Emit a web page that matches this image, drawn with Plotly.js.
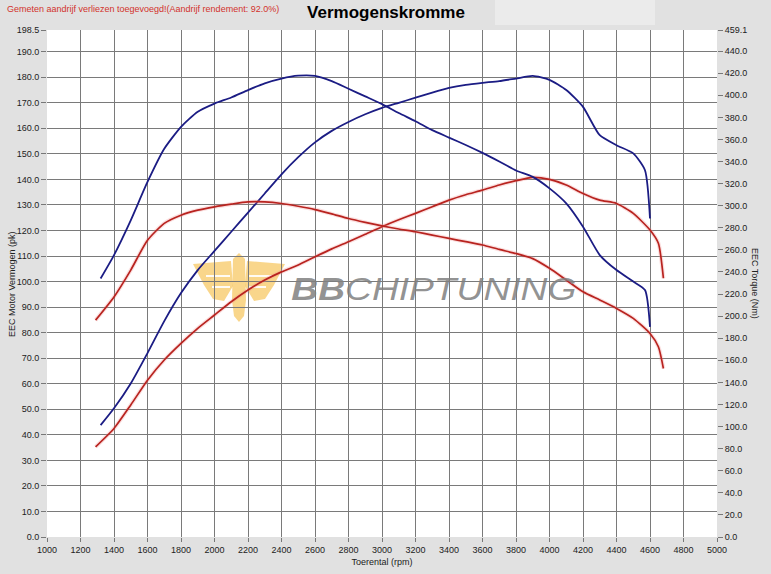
<!DOCTYPE html>
<html>
<head>
<meta charset="utf-8">
<script src="https://cdn.plot.ly/plotly-3.0.1.min.js"></script>
<style>
  html, body { margin: 0; padding: 0; background: #e1e1e1; }
  #chart { width: 771px; height: 574px; }
</style>
</head>
<body>
<div id="chart"></div>
<script>
// ---- Data ----
const rpmTuned = [1320,1400,1500,1600,1700,1800,1900,2000,2100,2200,2300,2400,2500,2600,2700,2800,2900,3000,3100,3200,3300,3400,3500,3600,3700,3800,3900,4000,4100,4200,4300,4400,4500,4570,4600];
const torqueTuned = [234.1,255.3,286.8,321.5,351.5,371.4,385.1,392.5,398.0,404.7,410.8,415.1,417.7,417.5,412.8,405.9,399.0,392.0,383.9,376.5,368.4,361.7,355.0,347.8,340.0,331.9,326.1,315.7,302.1,281.0,255.3,241.7,231.3,223.6,190.3];
const powerTuned = [43.8,50.4,60.1,72.0,84.5,95.5,104.5,112.0,119.5,127.0,134.5,142.0,148.7,154.5,159.0,162.5,165.5,168.0,170.0,172.0,174.0,175.8,177.0,177.8,178.5,179.5,180.5,179.0,175.0,168.4,157.3,153.4,150.2,143.6,124.7];

const rpmStock = [1290,1400,1500,1600,1700,1800,1900,2000,2100,2200,2300,2400,2500,2600,2700,2800,2900,3000,3100,3200,3300,3400,3500,3600,3700,3800,3900,4000,4100,4200,4300,4400,4500,4600,4650,4680];
const torqueStock = [196.4,217.4,241.7,268.7,284.0,291.4,296.0,299.0,301.4,303.4,303.4,302.0,299.5,296.5,292.6,288.4,284.9,281.7,278.9,276.4,273.4,270.4,267.4,264.4,260.4,256.7,252.1,243.3,232.7,222.0,214.6,207.0,198.0,184.3,172.3,152.6];
const powerStock = [35.3,42.5,51.7,61.4,69.3,75.8,81.7,86.9,92.1,96.7,100.6,103.8,106.5,109.7,112.8,115.6,118.5,121.5,124.2,126.7,129.3,131.9,134.0,135.8,137.8,139.5,140.8,140.0,137.8,134.5,131.9,130.6,126.7,120.2,115.0,101.3];

const xTicks = [1000,1200,1400,1600,1800,2000,2200,2400,2600,2800,3000,3200,3400,3600,3800,4000,4200,4400,4600,4800,5000];
const leftTicks = [0,10,20,30,40,50,60,70,80,90,100,110,120,130,140,150,160,170,180,190,198.5];
const rightTicks = [0,20,40,60,80,100,120,140,160,180,200,220,240,260,280,300,320,340,360,380,400,420,440,459.1];

const titleText = 'Vermogenskromme';
const noteText = 'Gemeten aandrijf verliezen toegevoegd!(Aandrijf rendement: 92.0%)';
const xTitle = 'Toerental (rpm)';
const yTitle = 'EEC Motor Vermogen (pk)';
const y2Title = 'EEC Torque (Nm)';

// ---- Styling ----
const BLUE = '#1b1c84';
const RED = '#b8231f';
const HALO = 'rgba(240,140,140,0.28)';
const FONT = 'Liberation Sans, Arial, sans-serif';

const traces = [
  {x: rpmStock, y: torqueStock, yaxis: 'y2', mode: 'lines', line: {color: HALO, width: 4, shape: 'spline', smoothing: 0.6}, hoverinfo: 'skip', showlegend: false},
  {x: rpmStock, y: powerStock, yaxis: 'y', mode: 'lines', line: {color: HALO, width: 4, shape: 'spline', smoothing: 0.6}, hoverinfo: 'skip', showlegend: false},
  {x: rpmStock, y: torqueStock, yaxis: 'y2', mode: 'lines', name: 'Torque origineel', line: {color: RED, width: 1.7, shape: 'spline', smoothing: 0.6}},
  {x: rpmStock, y: powerStock, yaxis: 'y', mode: 'lines', name: 'Vermogen origineel', line: {color: RED, width: 1.7, shape: 'spline', smoothing: 0.6}},
  {x: rpmTuned, y: torqueTuned, yaxis: 'y2', mode: 'lines', name: 'Torque getuned', line: {color: BLUE, width: 1.8, shape: 'spline', smoothing: 0.6}},
  {x: rpmTuned, y: powerTuned, yaxis: 'y', mode: 'lines', name: 'Vermogen getuned', line: {color: BLUE, width: 1.8, shape: 'spline', smoothing: 0.6}}
];

// plot area in pixels: left 47, right 717, top 30, bottom 537
const PL = 47, PR = 717, PT = 30, PB = 537;
function px(xp) { return (xp - PL) / (PR - PL); }
function py(yp) { return (PB - yp) / (PB - PT); }
function poly(pts) {
  return pts.map((p, i) => (i ? 'L' : 'M') + px(p[0]).toFixed(4) + ',' + py(p[1]).toFixed(4)).join(' ') + ' Z';
}
const LOGO = 'rgba(247,200,100,0.75)';
const WHITE = 'rgba(255,255,255,0.9)';
const logoShapes = [
  {type: 'path', xref: 'paper', yref: 'paper', layer: 'below', fillcolor: LOGO, line: {width: 0},
   path: poly([[193,264],[231,261],[233,286],[224,301],[213,299],[204,285]])},
  {type: 'path', xref: 'paper', yref: 'paper', layer: 'below', fillcolor: LOGO, line: {width: 0},
   path: poly([[285,264],[247,261],[245,286],[254,301],[265,299],[274,285]])},
  {type: 'path', xref: 'paper', yref: 'paper', layer: 'below', fillcolor: LOGO, line: {width: 0},
   path: poly([[233,259],[239,253],[245,259],[246,300],[244,316],[239,322],[234,316],[232,300]])},
  {type: 'line', xref: 'paper', yref: 'paper', layer: 'below', line: {color: WHITE, width: 2},
   x0: px(206), x1: px(230), y0: py(276), y1: py(276)},
  {type: 'line', xref: 'paper', yref: 'paper', layer: 'below', line: {color: WHITE, width: 2},
   x0: px(248), x1: px(272), y0: py(276), y1: py(276)},
  {type: 'line', xref: 'paper', yref: 'paper', layer: 'below', line: {color: WHITE, width: 2},
   x0: px(212), x1: px(230), y0: py(287), y1: py(287)},
  {type: 'line', xref: 'paper', yref: 'paper', layer: 'below', line: {color: WHITE, width: 2},
   x0: px(248), x1: px(266), y0: py(287), y1: py(287)},
  {type: 'rect', xref: 'paper', yref: 'paper', layer: 'below', fillcolor: '#ebebeb', line: {width: 0},
   x0: px(495), x1: px(655), y0: py(25), y1: py(0)}
];

const layout = {
  width: 771, height: 574,
  paper_bgcolor: '#e1e1e1',
  plot_bgcolor: '#ffffff',
  margin: {l: PL, r: 771 - PR, t: PT, b: 574 - PB, pad: 0},
  showlegend: false,
  font: {family: FONT, size: 9, color: '#222'},
  title: {text: '<b>' + titleText + '</b>', font: {family: FONT, size: 17, color: '#000'}, x: 386 / 771, xanchor: 'center', y: 1 - 12 / 574, yanchor: 'middle'},
  xaxis: {
    range: [1000, 5000], tickvals: xTicks, ticktext: xTicks.map(String),
    showgrid: true, gridcolor: '#7a7a7a', gridwidth: 1, zeroline: false, showline: false,
    ticks: 'outside', ticklen: 4, tickcolor: '#777', tickfont: {size: 9, color: '#222'},
    title: {text: xTitle, font: {size: 9, color: '#222'}, standoff: 4}
  },
  yaxis: {
    range: [0, 198.5], tickvals: leftTicks, ticktext: leftTicks.map(v => v.toFixed(1)),
    showgrid: true, gridcolor: '#7a7a7a', gridwidth: 1, zeroline: false, showline: false,
    ticks: 'outside', ticklen: 5, tickcolor: '#777', tickfont: {size: 9, color: '#222'}
  },
  yaxis2: {
    range: [0, 459.1], overlaying: 'y', side: 'right', tickvals: rightTicks, ticktext: rightTicks.map(v => v.toFixed(1)),
    showgrid: false, zeroline: false, showline: false,
    ticks: 'outside', ticklen: 5, tickcolor: '#777', tickfont: {size: 9, color: '#222'}
  },
  shapes: logoShapes,
  annotations: [
    {text: noteText, xref: 'paper', yref: 'paper', x: px(5), y: py(9), xanchor: 'left', yanchor: 'middle', showarrow: false, font: {family: FONT, size: 9, color: '#d2322c'}},
    {text: yTitle, xref: 'paper', yref: 'paper', x: px(12), y: py(284), xanchor: 'center', yanchor: 'middle', textangle: -90, showarrow: false, font: {family: FONT, size: 9, color: '#222'}},
    {text: y2Title, xref: 'paper', yref: 'paper', x: px(755), y: py(283), xanchor: 'center', yanchor: 'middle', textangle: 90, showarrow: false, font: {family: FONT, size: 9, color: '#222'}},
    {text: '<b>BB</b>CHIPTUNING', xref: 'paper', yref: 'paper', x: px(434.5), y: py(289), xanchor: 'center', yanchor: 'middle', showarrow: false, font: {family: FONT, size: 31, color: 'rgba(128,128,128,0.85)', style: 'italic'}}
  ]
};

Plotly.newPlot('chart', traces, layout, {staticPlot: true, displayModeBar: false}).then(function (gd) {
  // stretch the watermark text horizontally like the reference logo type
  gd.querySelectorAll('text.annotation-text').forEach(function (t) {
    if (t.textContent === 'BBCHIPTUNING') {
      t.setAttribute('textLength', '285');
      t.setAttribute('lengthAdjust', 'spacingAndGlyphs');
    }
  });
});
</script>
</body>
</html>
